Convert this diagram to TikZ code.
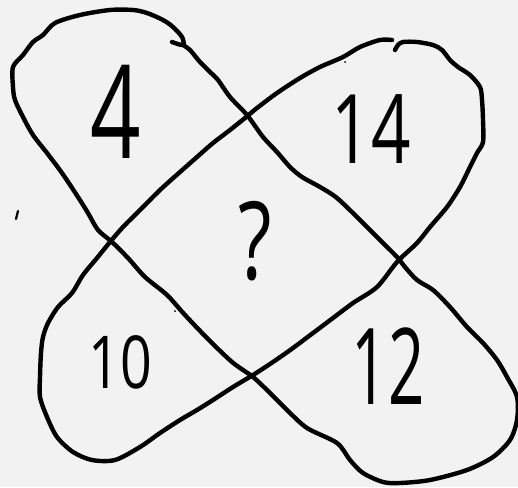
\documentclass[tikz,border=0pt]{standalone}
\usepackage{fontspec}
\setmainfont{Open Sans}
\usepackage{graphicx}
\usepackage{tikz}

\begin{document}
\begin{tikzpicture}[x=1pt, y=-1pt,
    bandline/.style={line width=4.4pt, line cap=round, line join=round, black},
    digit/.style={inner sep=0pt}]
    % Background
    \fill[black!5] (0,0) rectangle (518,487);
    \useasboundingbox (0,0) rectangle (518,487);

    % Band running from top left to bottom right
    \draw[bandline] plot[smooth, tension=0.5] coordinates {(172,42) (183,45) (182,37) (173,27) (163,20) (147,13) (133,10) (110,10) (80,15) (55,23) (43,35) (33,42) (23,55) (13,67) (13,87) (15,100) (23,117) (33,135) (47,153) (62,173) (78,197) (88,213) (98,230) (112,242) (128,258) (145,277) (167,295) (185,315) (207,338) (232,362) (253,377) (270,393) (287,410) (307,428) (337,443) (350,460) (363,473) (383,482) (400,483) (430,480) (467,470) (493,457) (510,440) (517,420) (517,397) (507,377) (497,360) (483,343) (467,327) (450,307) (433,290) (417,280) (405,267) (397,257) (380,240) (360,220) (337,198) (320,187) (302,177) (290,167) (277,152) (263,137) (247,115) (230,97) (218,80) (210,72) (200,62) (190,50) (183,45)};

    % Band running from top right to bottom left
    \draw[bandline] plot[smooth, tension=0.5] coordinates {(392,40) (380,40) (360,47) (343,57) (320,67) (300,78) (277,93) (257,108) (245,118) (230,130) (213,143) (197,157) (180,172) (160,190) (140,210) (123,227) (110,242) (97,258) (83,275) (72,293) (58,307) (48,323) (43,337) (41,353) (40,377) (40,397) (47,417) (57,437) (73,452) (92,460) (115,460) (140,447) (160,433) (180,420) (197,410) (213,400) (233,387) (253,375) (273,362) (293,348) (313,333) (333,318) (353,303) (377,287) (397,262) (417,243) (430,227) (447,207) (460,187) (470,167) (477,153) (483,142) (483,120) (482,100) (480,87) (470,75) (458,67) (450,60) (442,50) (433,45) (417,42) (403,42) (398,45) (395,50)};

    % Stray pen marks
    \draw[line width=2.2pt, line cap=round] (18,211) -- (16,219);
    \fill (345,62) circle (1pt);
    \fill (175,311) circle (1pt);

    % Numbers
    \node[digit, font=\fontsize{130}{130}\selectfont] (four) at (116,112) {\scalebox{0.68}[1]{4}};
    \node[digit, font=\fontsize{96}{96}\selectfont] (fourteen) at (371,129) {\scalebox{0.72}[1]{14}};
    \node[digit, font=\fontsize{73}{73}\selectfont] (ten) at (120,362) {\scalebox{0.76}[1]{10}};
    \node[digit, font=\fontsize{106}{106}\selectfont] (twelve) at (388,366) {\scalebox{0.6}[1]{12}};
    \node[digit, font=\fontsize{108}{108}\selectfont] (query) at (255,241) {\scalebox{0.72}[1]{?}};
\end{tikzpicture}
\end{document}
